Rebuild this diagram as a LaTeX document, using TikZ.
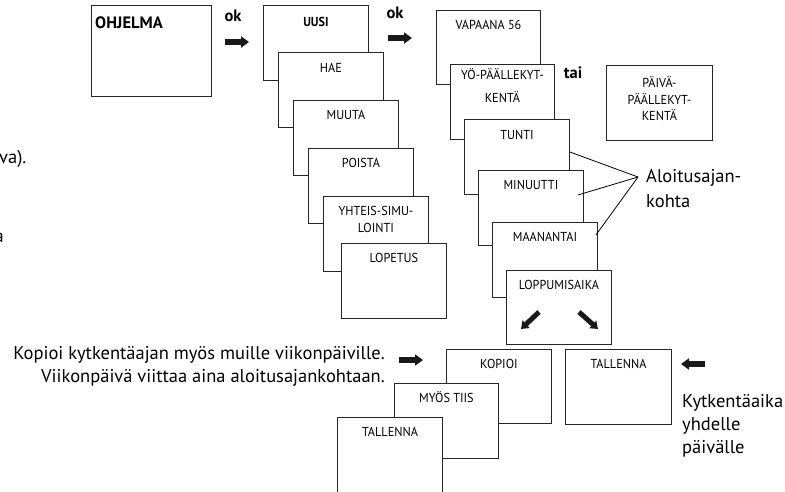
\documentclass[tikz,border=0pt]{standalone}
\usepackage{fontspec}
\setmainfont{PT Sans}
\newfontfamily\lblfont{PT Sans}[FakeStretch=0.94]
\usetikzlibrary{arrows.meta}
\tikzset{
  scr/.style={draw=black!85, line width=0.9pt, fill=white, minimum width=105pt, minimum height=75pt, inner sep=0pt, anchor=north west},
  lbl/.style={font=\lblfont\fontsize{13}{16.5}\selectfont, align=center, inner sep=0pt, anchor=base},
  blbl/.style={font=\bfseries\fontsize{16.5}{18}\selectfont, inner sep=0pt},
  body/.style={font=\fontsize{18.5}{23}\selectfont, inner sep=0pt},
  fat/.style={line width=5.5pt, -{Triangle[length=8pt,width=11pt]}, black!90},
  ptr/.style={line width=0.8pt, black}
}
\begin{document}
\begin{tikzpicture}[x=1pt,y=-1pt]
\useasboundingbox (0,0) rectangle (785,491);
% left cropped text
\node[body, anchor=base west] (frag1) at (-1,163) {va).};
\node[body, anchor=base east] (frag2) at (4,242) {a};
% OHJELMA
\node[scr, minimum width=120pt, minimum height=91pt] (ohj) at (91,5) {};
\node[blbl, anchor=base west] (ohjt) at ([xshift=4pt,yshift=-23pt]ohj.north west) {OHJELMA};
\node[blbl] (ok1) at (233,16) {ok};
\coordinate (a1s) at (225,42); \coordinate (a1e) at (249,42);
\draw[fat] (a1s) -- (a1e);
% first stack
\node[scr] (uusi) at (263,5) {};
\node[lbl, font=\lblfont\bfseries\fontsize{13}{16.5}\selectfont] (uusit) at ([yshift=-21.5pt]uusi.north) {UUSI};
\node[scr] (hae) at (278,52) {};
\node[lbl] (haet) at ([yshift=-20pt]hae.north) {HAE};
\node[scr] (muuta) at (293,100) {};
\node[lbl] (muutat) at ([yshift=-19.5pt]muuta.north) {MUUTA};
\node[scr] (poista) at (308,148) {};
\node[lbl] (poistat) at ([yshift=-19.5pt]poista.north) {POISTA};
\node[scr] (yht) at (323,196) {};
\node[lbl] (yhtt) at ([yshift=-36pt]yht.north) {YHTEIS-SIMU-\\LOINTI};
\node[scr] (lop) at (341,243) {};
\node[lbl] (lopt) at ([yshift=-19.5pt]lop.north) {LOPETUS};
\node[blbl] (ok2) at (395,13) {ok};
\coordinate (a2s) at (388,38); \coordinate (a2e) at (412,38);
\draw[fat] (a2s) -- (a2e);
% second stack
\node[scr, minimum width=104pt, minimum height=74pt] (vap) at (436,10) {};
\node[lbl] (vapt) at ([yshift=-19.5pt]vap.north) {VAPAANA 56};
\node[scr, minimum width=104pt] (yo) at (450,64) {};
\node[lbl, font=\lblfont\fontsize{13}{23}\selectfont] (yot) at ([yshift=-38.5pt]yo.north) {YÖ-PÄÄLLEKYT-\\KENTÄ};
\node[blbl] (tai) at (573,73) {tai};
\node[scr, minimum width=106pt] (paiva) at (606,65) {};
\node[lbl] (paivat) at ([yshift=-55.5pt]paiva.north) {PÄIVÄ-\\PÄÄLLEKYT-\\KENTÄ};
\node[scr] (tunti) at (464,119) {};
\node[lbl] (tuntit) at ([yshift=-20.5pt]tunti.north) {TUNTI};
\node[scr] (minu) at (478,170) {};
\node[lbl] (minut) at ([yshift=-19.5pt]minu.north) {MINUUTTI};
\node[scr] (maan) at (492,222) {};
\node[lbl] (maant) at ([yshift=-19.5pt]maan.north) {MAANANTAI};
\node[scr, minimum width=105pt, minimum height=74pt] (lpm) at (506,270) {};
\node[lbl] (lpmt) at ([yshift=-19.5pt]lpm.north) {LOPPUMISAIKA};
\coordinate (d1s) at (539,312); \coordinate (d1e) at (521,329);
\coordinate (d2s) at (579,312); \coordinate (d2e) at (598,329);
\draw[fat, line width=5pt, -{Triangle[length=7pt,width=10pt]}] (d1s) -- (d1e);
\draw[fat, line width=5pt, -{Triangle[length=7pt,width=10pt]}] (d2s) -- (d2e);
% pointers
\coordinate (conv) at (638,177);
\draw[ptr] ([yshift=-33pt]tunti.north east) -- (conv);
\draw[ptr] ([xshift=-6pt,yshift=-25pt]minu.north east) -- (conv);
\draw[ptr] ([xshift=-2pt,yshift=-13pt]maan.north east) -- (conv);
\node[body, anchor=base west, align=left, font=\fontsize{18.5}{25}\selectfont] (aloit) at (646,207) {Aloitusajan-\\kohta};
% bottom
\node[scr, minimum width=105pt, minimum height=74pt] (kop) at (446,349) {};
\node[lbl] (kopt) at ([yshift=-19.5pt]kop.north) {KOPIOI};
\node[scr, minimum width=104pt] (myos) at (394,383) {};
\node[lbl] (myost) at ([yshift=-19.5pt]myos.north) {MYÖS TIIS};
\node[scr, minimum width=105pt, minimum height=80pt] (tal1) at (337,417) {};
\node[lbl] (tal1t) at ([yshift=-19.5pt]tal1.north) {TALLENNA};
\node[scr, minimum width=106pt] (tal2) at (565,349) {};
\node[lbl] (tal2t) at ([yshift=-19.5pt]tal2.north) {TALLENNA};
\node[body, anchor=base east, align=right] (kopio) at (385,382) {Kopioi kytkentäajan myös muille viikonpäiville.\\Viikonpäivä viittaa aina aloitusajankohtaan.};
\coordinate (a3s) at (399,360); \coordinate (a3e) at (423,360);
\draw[fat] (a3s) -- (a3e);
\coordinate (a4s) at (705,364); \coordinate (a4e) at (681,364);
\draw[fat] (a4s) -- (a4e);
\node[body, anchor=base west, align=left] (kytk) at (682,453) {Kytkentäaika\\yhdelle\\päivälle};
\end{tikzpicture}
\end{document}
